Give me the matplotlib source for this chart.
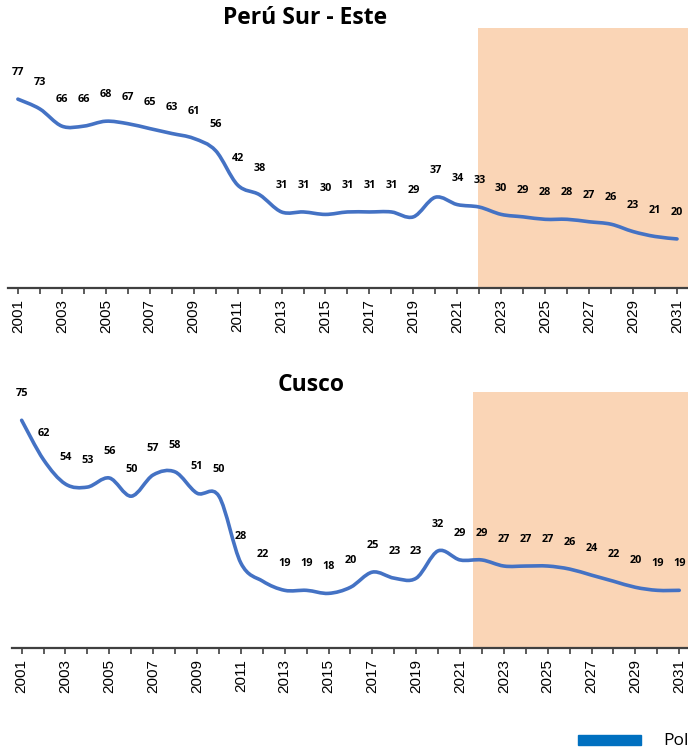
import numpy as np
import matplotlib
matplotlib.use("Agg")
import matplotlib.pyplot as plt
from matplotlib.path import Path
from matplotlib.patches import PathPatch

years = list(range(2001, 2032))
sur_este = [77, 73, 66, 66, 68, 67, 65, 63, 61, 56, 42, 38, 31, 31, 30, 31,
            31, 31, 29, 37, 34, 33, 30, 29, 28, 28, 27, 26, 23, 21, 20]
cusco = [75, 62, 54, 53, 56, 50, 57, 58, 51, 50, 28, 22, 19, 19, 18, 20,
         25, 23, 23, 32, 29, 29, 27, 27, 27, 26, 24, 22, 20, 19, 19]

LINE = "#4472C4"
SHADE = "#FAD5B6"
AXIS = "#404040"


def smooth_path(x, y):
    # bezier segments through every point, like a smoothed office line
    x = np.asarray(x, float)
    y = np.asarray(y, float)
    pts = np.column_stack([x, y])
    n = len(pts)
    verts = [pts[0]]
    codes = [Path.MOVETO]
    for i in range(n - 1):
        p0 = pts[max(i - 1, 0)]
        p1 = pts[i]
        p2 = pts[i + 1]
        p3 = pts[min(i + 2, n - 1)]
        c1 = p1 + (p2 - p0) / 6.0
        c2 = p2 - (p3 - p1) / 6.0
        verts += [c1, c2, p2]
        codes += [Path.CURVE4] * 3
    return Path(verts, codes)


def panel(ax, values, title, ymax, shade_from, xlim, title_xy):
    ax.axvspan(shade_from, xlim[1] + 1, color=SHADE, lw=0, zorder=0)
    ax.add_patch(PathPatch(smooth_path(years, values), fill=False,
                           edgecolor=LINE, lw=2.6, capstyle="round",
                           joinstyle="round", zorder=3))
    for yr, v in zip(years, values):
        ax.annotate(str(v), (yr, v), xytext=(0, 19), textcoords="offset points",
                    ha="center", va="center", fontsize=7.8, fontweight="bold",
                    family="Open Sans", color="black", zorder=4)
    ax.set_xlim(*xlim)
    ax.set_ylim(0, ymax)
    for s in ("left", "right", "top"):
        ax.spines[s].set_visible(False)
    ax.spines["bottom"].set_color(AXIS)
    ax.spines["bottom"].set_linewidth(1.6)
    ax.set_yticks([])
    ax.set_xticks(years[::2])
    ax.set_xticks(years[1::2], minor=True)
    ax.set_xticklabels([str(y) for y in years[::2]], rotation=90,
                       fontsize=11, family="Liberation Sans")
    ax.tick_params(axis="x", which="both", direction="out", length=4,
                   width=1.2, color=AXIS, pad=4)
    ax.text(title_xy[0], title_xy[1], title, transform=ax.figure.transFigure,
            ha="center", va="center", fontsize=16.5, fontweight="bold",
            family="Open Sans")


fig = plt.figure(figsize=(6.88, 7.49), dpi=100)

ax1 = fig.add_axes([8 / 688, 0.6155, 1 - 8 / 688, 0.9626 - 0.6155])
panel(ax1, sur_este, "Perú Sur - Este", 106, 2021.95, (2000.55, 2031.5),
      (305 / 688, 1 - 18 / 749))

ax2 = fig.add_axes([12 / 688, 0.1348, 1 - 12 / 688, 0.4766 - 0.1348])
panel(ax2, cusco, "Cusco", 84.3, 2021.6, (2000.56, 2031.4),
      (311 / 688, 1 - 385 / 749))

# legend key at the bottom edge
fig.patches.append(plt.Rectangle((578 / 688, 1 - 745 / 749), 63 / 688, 10 / 749,
                                 transform=fig.transFigure, color="#0070C0"))
fig.text(663 / 688, 1 - 741 / 749, "Pol", ha="left", va="center",
         fontsize=12.5, family="Open Sans")

fig.savefig("out.png", dpi=100)
